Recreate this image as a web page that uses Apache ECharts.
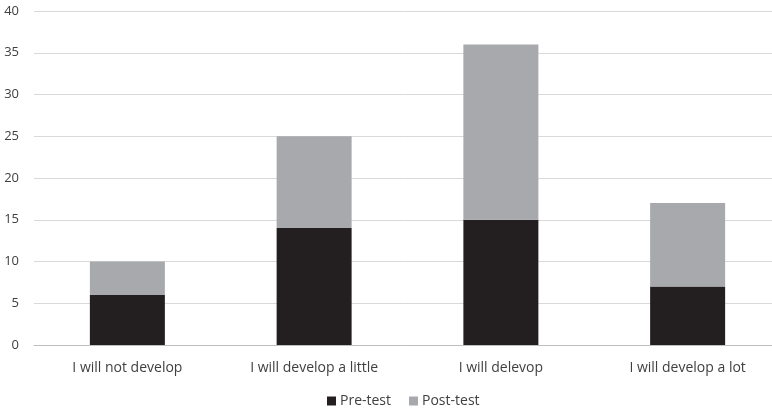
<!DOCTYPE html>
<html>
<head>
<meta charset="utf-8">
<script src="https://cdn.jsdelivr.net/npm/echarts@6/dist/echarts.min.js"></script>
<style>
  html, body { margin: 0; padding: 0; background: #fff; }
  #chart { width: 772px; height: 411px; }
</style>
</head>
<body>
<div id="chart"></div>
<script>
// Responses per category, before and after the course
const categories = ['I will not develop', 'I will develop a little', 'I will delevop', 'I will develop a lot'];
const preTest = [6, 14, 15, 7];
const postTest = [4, 11, 21, 10];
const seriesNames = ['Pre-test', 'Post-test'];

const chart = echarts.init(document.getElementById('chart'));
const font = '"Open Sans", "Liberation Sans", sans-serif';

chart.setOption({
  animation: false,
  textStyle: { fontFamily: font },
  // the plot runs slightly past the right edge, so the gridlines are clipped there
  grid: { left: 34, width: 747, top: 11, height: 334, outerBoundsMode: 'none', containLabel: false },
  legend: {
    top: 389,
    left: 322,
    itemWidth: 9,
    itemHeight: 9,
    itemGap: 18,
    icon: 'rect',
    textStyle: { fontFamily: font, fontSize: 14, color: '#404040', padding: [0, 0, 0, -1] },
    data: seriesNames
  },
  xAxis: {
    type: 'category',
    data: categories,
    axisLine: { lineStyle: { color: '#bfbfbf', width: 1 } },
    axisTick: { show: false },
    axisLabel: { fontFamily: font, fontSize: 14, color: '#404040', margin: 16 }
  },
  yAxis: {
    type: 'value',
    min: 0,
    max: 40,
    interval: 5,
    axisLine: { show: false },
    axisTick: { show: false },
    axisLabel: { fontFamily: font, fontSize: 13, color: '#404040', margin: 15 },
    splitLine: { lineStyle: { color: '#d9d9d9', width: 1 } }
  },
  series: [
    {
      name: seriesNames[0],
      type: 'bar',
      stack: 'total',
      barWidth: 75,
      itemStyle: { color: '#231f20' },
      data: preTest
    },
    {
      name: seriesNames[1],
      type: 'bar',
      stack: 'total',
      barWidth: 75,
      itemStyle: { color: '#a7a9ac' },
      data: postTest
    }
  ]
});
</script>
</body>
</html>
